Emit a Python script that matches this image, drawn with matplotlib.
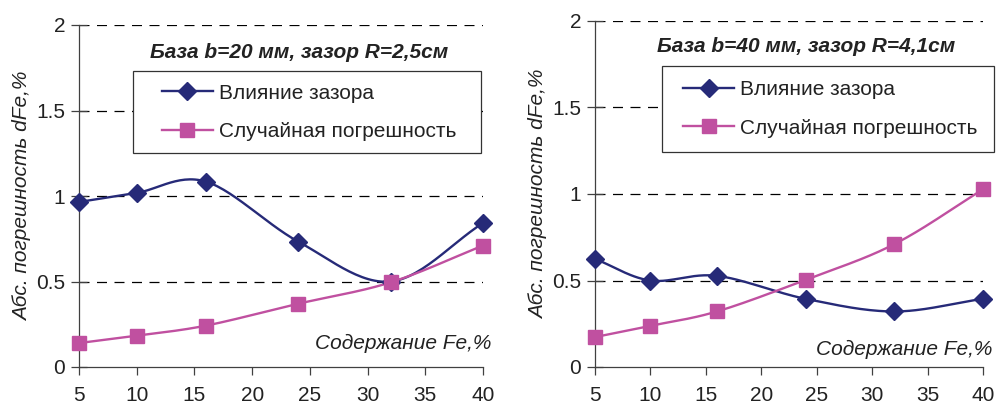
import numpy as np
import matplotlib.pyplot as plt
from matplotlib.patches import Rectangle

# Fe content, % (x axis)
fe_content = [5, 10, 16, 24, 32, 40]

# b = 20 mm, R = 2.5 cm
gap_20 = [0.965, 1.018, 1.084, 0.733, 0.50, 0.842]
rand_20 = [0.14, 0.183, 0.242, 0.37, 0.495, 0.71]

# b = 40 mm, R = 4.1 cm
gap_40 = [0.625, 0.50, 0.527, 0.394, 0.321, 0.394]
rand_40 = [0.173, 0.238, 0.321, 0.504, 0.71, 1.027]

titles = ["База b=20 мм, зазор R=2,5см", "База b=40 мм, зазор R=4,1см"]
legend_labels = ["Влияние зазора", "Случайная погрешность"]
y_ticks = [0, 0.5, 1, 1.5, 2]
y_ticklabels = ["0", "0.5", "1", "1.5", "2"]

BLUE = "#262a78"
PINK = "#c050a0"
TXT = "#222222"
AX = "#404040"

plt.rcParams["font.family"] = ["Liberation Sans", "DejaVu Sans"]


def smooth(x, y, n=30):
    # Catmull-Rom style smoothing of the polyline (like spreadsheet "smoothed line")
    x = np.asarray(x, float)
    y = np.asarray(y, float)
    px = np.concatenate([[2 * x[0] - x[1]], x, [2 * x[-1] - x[-2]]])
    py = np.concatenate([[2 * y[0] - y[1]], y, [2 * y[-1] - y[-2]]])
    xs, ys = [], []
    t = np.linspace(0, 1, n)
    for i in range(1, len(px) - 2):
        p0, p1, p2, p3 = [np.array([px[j], py[j]]) for j in (i - 1, i, i + 1, i + 2)]
        c1 = p1 + (p2 - p0) / 6.0
        c2 = p2 - (p3 - p1) / 6.0
        pts = (((1 - t) ** 3)[:, None] * p1 + (3 * (1 - t) ** 2 * t)[:, None] * c1
               + (3 * (1 - t) * t ** 2)[:, None] * c2 + (t ** 3)[:, None] * p2)
        xs.extend(pts[:, 0])
        ys.extend(pts[:, 1])
    return np.array(xs), np.array(ys)


fig = plt.figure(figsize=(9.98, 4.07), dpi=100)
W, H = 998.0, 407.0

panels = [
    dict(rect=[79 / W, 40 / H, 404 / W, 342 / H], gap=gap_20, rand=rand_20,
         title_xy=(0.545, 0.921), box=(0.134, 0.626, 0.861, 0.239),
         leg_xy=(0.205, 0.744), xlab_xy=(1.02, 0.07)),
    dict(rect=[595 / W, 40 / H, 388 / W, 346 / H], gap=gap_40, rand=rand_40,
         title_xy=(0.544, 0.925), box=(0.173, 0.621, 0.855, 0.249),
         leg_xy=(0.227, 0.746), xlab_xy=(1.023, 0.05)),
]

for p, title in zip(panels, titles):
    ax = fig.add_axes(p["rect"])
    ax.set_xlim(5, 40)
    ax.set_ylim(0, 2)

    for v in y_ticks[1:]:
        ax.axhline(v, color="black", lw=0.9, ls=(0, (8, 6)), zorder=1)

    sx, sy = smooth(fe_content, p["gap"])
    ax.plot(sx, sy, color=BLUE, lw=1.7, zorder=3, clip_on=False)
    ax.plot(fe_content, p["gap"], ls="none", marker="D", ms=9, color=BLUE,
            zorder=4, clip_on=False)
    sx, sy = smooth(fe_content, p["rand"])
    ax.plot(sx, sy, color=PINK, lw=1.7, zorder=3, clip_on=False)
    ax.plot(fe_content, p["rand"], ls="none", marker="s", ms=10, color=PINK,
            zorder=4, clip_on=False)

    # legend frame drawn separately to get the wide side margins
    bx, by, bw, bh = p["box"]
    ax.add_patch(Rectangle((bx, by), bw, bh, transform=ax.transAxes,
                           facecolor="white", edgecolor="#333333", lw=0.9,
                           zorder=5, clip_on=False))
    h1, = ax.plot([], [], color=BLUE, lw=1.7, marker="D", ms=9)
    h2, = ax.plot([], [], color=PINK, lw=1.7, marker="s", ms=10)
    leg = ax.legend([h1, h2], legend_labels, loc="center left",
                    bbox_to_anchor=p["leg_xy"], fontsize=15, frameon=False,
                    handlelength=2.45, handletextpad=0.3, labelspacing=0.95,
                    borderpad=0, borderaxespad=0)
    leg.set_zorder(6)
    for t in leg.get_texts():
        t.set_color(TXT)

    ax.text(*p["title_xy"], title, transform=ax.transAxes,
            ha="center", va="center", fontsize=15, fontweight="bold",
            style="italic", color=TXT)
    ax.text(*p["xlab_xy"], "Содержание Fe,%", transform=ax.transAxes,
            ha="right", va="center", fontsize=15, style="italic", color=TXT)
    ax.set_ylabel("Абс. погрешность dFe,%", fontsize=15, style="italic",
                  color=TXT, labelpad=3)

    ax.set_xticks(range(5, 41, 5))
    ax.set_yticks(y_ticks)
    ax.set_yticklabels(y_ticklabels)
    ax.tick_params(axis="both", width=0.9, colors=AX, labelsize=15,
                   labelcolor=TXT)
    ax.tick_params(axis="x", direction="out", length=6, pad=8)
    ax.tick_params(axis="y", direction="inout", length=12, pad=4)
    for s in ("top", "right"):
        ax.spines[s].set_visible(False)
    for s in ("left", "bottom"):
        ax.spines[s].set_color(AX)
        ax.spines[s].set_linewidth(0.9)

fig.savefig("out.png", dpi=100)
